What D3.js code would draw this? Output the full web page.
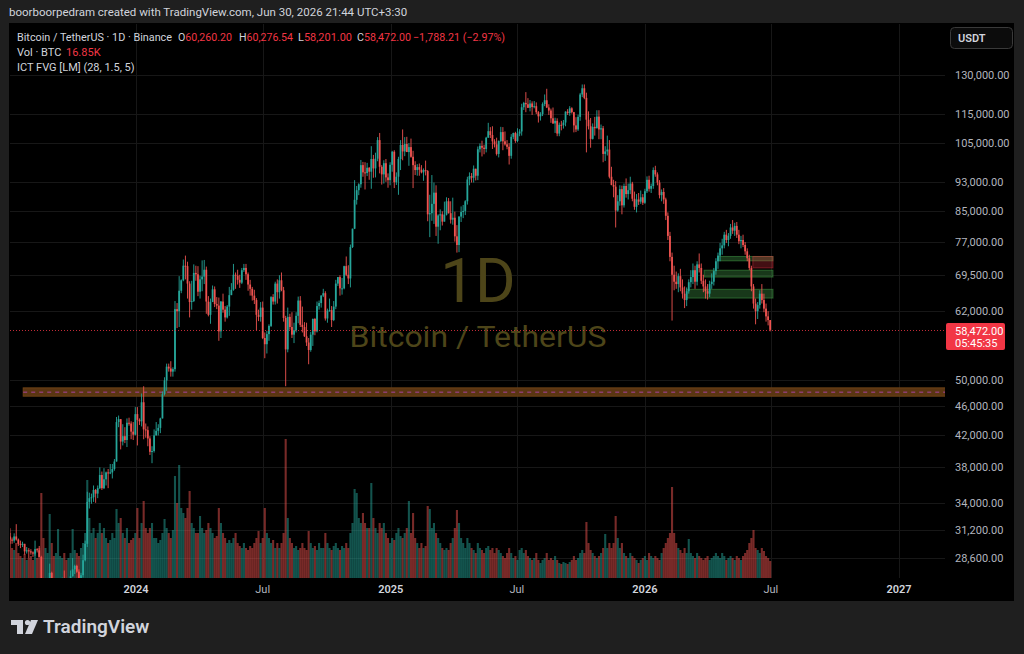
<!DOCTYPE html>
<html>
<head>
<meta charset="utf-8">
<script src="https://cdn.jsdelivr.net/npm/d3@7"></script>
<style>
  html, body { margin: 0; padding: 0; background: #1f1f1f; }
  svg { display: block; }
  text { font-family: Roboto, "Noto Sans", sans-serif; }
</style>
</head>
<body>
<svg id="chart" width="1024" height="654"></svg>
<script>
// BTC/USDT, Binance, 3-day buckets (K USDT)
const startDate = new Date(Date.UTC(2023, 6, 3));
const stepDays = 3;
const firstOpen = 30.6;

const highs = [
  31.4,30.5,30.9,31.8,30.4,30.2,30.1,29.9,29.6,29.5,
  29.4,29.2,30.2,29.5,29.7,28.8,26.3,26.8,26.2,28.1,
  27.4,26.1,26.4,26.3,26.8,26.9,27.5,26.7,26.8,27.5,
  28.6,28.0,28.0,27.6,27.3,28.9,30.2,35.2,35.1,35.0,
  35.9,35.5,35.9,38.0,37.5,37.9,37.5,37.8,38.4,38.4,
  39.0,44.5,44.7,44.2,43.5,43.1,44.3,44.4,43.9,43.8,
  45.9,45.9,44.3,47.9,49.0,43.6,43.2,41.9,40.6,42.8,
  43.8,43.5,44.4,48.2,50.4,52.6,52.6,53.0,52.0,64.0,
  63.6,69.2,68.5,72.9,73.8,72.4,68.1,68.2,71.8,71.5,
  71.4,69.3,72.7,72.8,71.3,65.0,64.5,67.2,67.0,64.8,
  64.7,64.0,65.5,63.0,63.2,66.9,67.7,71.9,70.0,70.6,
  69.5,71.0,71.9,71.9,70.0,68.4,66.9,66.3,64.6,62.3,
  63.8,63.9,58.0,58.3,59.5,65.0,65.4,68.0,68.5,69.4,
  70.0,66.9,61.1,62.7,61.5,61.8,59.8,61.8,64.9,65.0,
  62.9,59.9,59.8,57.0,58.1,60.6,60.7,63.9,64.1,65.2,
  66.5,66.0,62.5,64.5,63.0,64.0,68.4,69.0,69.4,68.8,
  71.5,73.6,71.6,76.4,80.3,93.5,91.8,92.6,99.6,99.0,
  98.9,98.7,97.4,104.0,101.2,101.9,107.0,108.4,98.0,99.5,
  99.9,95.5,98.9,102.5,102.7,95.8,100.6,106.0,109.6,107.0,
  107.1,105.0,106.5,102.5,99.2,98.3,98.5,98.0,97.0,99.4,
  96.5,89.3,95.0,92.8,92.0,84.0,85.3,84.8,87.4,88.6,
  88.4,87.5,88.5,84.7,81.2,83.5,86.1,86.5,87.8,94.5,
  95.8,95.6,97.9,96.9,103.9,104.9,105.8,104.5,107.1,111.9,
  110.4,110.7,106.3,106.8,105.9,110.5,110.4,108.9,106.0,105.0,
  108.0,108.5,108.8,110.0,109.7,118.8,119.5,123.2,120.9,120.2,
  119.7,119.8,119.3,116.1,115.7,119.3,122.3,124.5,118.6,117.0,
  117.4,113.7,113.5,112.0,112.6,112.9,116.0,116.8,117.9,117.5,
  115.8,113.9,114.8,122.9,126.2,126.2,123.0,116.0,113.6,111.7,
  114.0,116.4,116.4,111.3,110.8,104.0,107.5,106.0,97.5,93.6,
  93.2,89.2,92.0,91.9,92.5,94.0,92.5,94.5,93.0,90.2,
  89.5,89.8,90.5,89.5,91.0,94.6,94.8,92.5,97.3,97.8,
  95.8,93.5,90.8,91.2,88.5,84.5,79.5,74.5,71.5,70.2,
  69.8,70.8,68.5,67.0,66.8,68.5,70.5,72.0,71.5,72.5,
  74.3,72.0,69.5,68.5,67.5,68.2,69.8,71.0,73.2,74.5,
  76.8,77.8,79.5,80.0,79.2,81.5,82.5,81.8,82.0,80.0,
  78.5,78.8,77.0,75.5,74.0,71.5,67.5,64.5,63.8,66.2,
  67.5,65.5,63.5,62.0,60.3
];
const lows = [
  29.9,29.9,30.0,30.2,29.7,29.5,29.6,28.9,29.0,28.6,
  28.9,28.7,28.8,29.1,28.7,25.2,25.8,25.8,25.9,25.9,
  25.8,25.6,25.6,24.9,26.1,26.1,26.4,26.0,26.0,26.4,
  27.0,27.2,27.3,26.5,26.6,26.9,28.3,29.6,33.4,33.9,
  34.1,34.0,34.5,35.5,35.4,35.5,35.9,35.6,37.2,36.7,
  37.6,38.7,43.1,40.2,40.7,41.0,40.5,43.3,41.5,41.4,
  42.0,40.7,43.4,43.2,41.5,41.7,40.6,39.5,38.5,39.8,
  42.0,42.0,42.3,44.3,47.6,48.3,51.3,50.5,50.5,51.3,
  58.8,59.0,65.6,68.1,68.5,64.5,60.8,62.3,63.8,68.2,
  65.0,64.5,66.0,67.5,61.5,61.0,59.6,63.8,62.8,62.4,
  56.5,57.0,61.7,60.0,60.6,61.1,65.2,66.1,66.5,67.4,
  66.7,67.5,70.1,68.4,66.1,65.1,64.1,63.4,58.4,60.1,
  60.0,56.8,53.5,54.3,56.5,59.0,63.3,63.3,63.5,64.5,
  66.0,60.0,49.0,54.5,58.5,57.0,56.1,58.0,59.7,59.0,
  58.0,57.2,55.6,52.5,54.6,55.6,57.5,58.0,62.3,62.7,
  64.8,60.2,59.8,61.9,59.0,60.1,62.4,67.1,65.1,65.3,
  66.4,69.2,67.5,66.8,75.6,80.2,86.6,89.2,91.3,94.5,
  90.8,94.7,93.6,91.0,94.2,94.3,99.2,95.5,92.2,92.5,
  93.0,91.3,92.0,96.0,91.2,92.1,89.3,96.5,99.5,100.8,
  102.2,97.8,100.3,91.2,95.0,94.8,94.8,95.5,93.3,94.9,
  82.2,78.2,82.3,81.5,78.5,76.6,79.9,81.1,82.1,83.7,
  84.2,81.6,81.3,77.1,74.5,74.6,82.0,83.0,83.8,86.6,
  92.0,92.8,92.8,93.4,93.5,102.0,100.7,101.4,102.0,106.8,
  106.7,103.1,103.6,101.0,100.4,105.3,102.7,104.2,103.0,98.2,
  100.0,106.3,105.1,105.3,107.3,107.5,116.5,115.7,117.2,116.0,
  114.7,117.1,115.0,112.0,112.7,114.3,117.9,117.2,114.7,111.9,
  111.5,108.4,107.3,107.3,109.3,109.9,110.7,114.7,114.4,115.2,
  108.6,108.7,109.1,112.6,121.3,120.5,102.0,109.6,103.5,106.2,
  107.5,110.0,106.3,106.3,98.9,99.3,101.0,94.0,92.0,88.6,
  80.6,84.7,86.3,84.0,85.8,88.5,88.0,89.5,87.5,85.2,
  84.5,86.5,86.8,86.5,86.8,89.8,90.2,89.8,91.0,94.5,
  92.0,88.3,87.5,86.8,82.5,77.5,72.5,60.2,66.2,66.5,
  65.8,66.0,64.5,62.6,63.0,65.5,66.8,67.5,66.5,67.2,
  70.0,67.5,65.8,64.5,64.3,64.8,66.5,67.2,69.5,70.8,
  72.5,74.0,75.5,76.8,76.0,77.8,79.0,78.5,78.0,76.5,
  75.5,75.8,74.0,72.5,70.5,66.0,62.5,59.5,60.5,62.5,
  63.5,61.8,60.0,59.3,58.2
];
const closes = [
  30.3,30.2,30.6,30.3,29.9,29.8,29.9,29.2,29.3,29.2,
  29.1,29.0,29.4,29.3,28.7,26.1,26.0,26.0,26.1,27.3,
  25.9,25.8,25.9,26.2,26.6,26.8,26.6,26.3,26.4,27.0,
  27.6,27.9,27.4,26.8,27.1,28.4,29.9,34.1,34.5,34.6,
  35.4,35.0,35.6,37.1,35.6,36.6,37.4,37.3,37.4,37.8,
  38.7,43.8,44.2,41.2,41.9,41.4,43.7,43.6,42.5,42.1,
  44.9,44.1,43.9,46.6,42.8,42.7,41.6,39.9,40.0,42.0,
  42.6,43.0,44.3,47.8,49.9,52.1,51.8,51.3,51.7,62.4,
  62.0,66.1,68.3,71.5,71.4,67.6,63.8,64.0,69.9,69.6,
  65.9,68.5,69.1,70.6,63.9,61.3,63.8,66.4,63.4,63.1,
  58.2,63.9,62.3,60.8,62.9,65.2,66.3,69.5,69.3,68.4,
  67.8,70.5,71.0,69.6,67.4,66.5,65.1,64.2,61.3,60.9,
  62.7,57.0,55.9,57.7,59.2,64.8,63.9,67.6,65.8,68.3,
  66.2,60.7,55.0,60.9,59.0,57.6,58.4,61.1,64.1,59.4,
  59.0,57.3,56.2,54.9,57.6,60.5,58.2,63.0,63.6,65.1,
  65.6,60.6,62.1,62.2,60.3,62.9,67.6,69.0,66.6,66.6,
  71.4,69.5,68.7,75.8,80.3,87.9,90.6,92.3,98.0,95.8,
  95.6,97.2,96.0,99.9,97.0,100.0,106.0,97.5,95.2,98.6,
  94.3,93.5,98.1,102.2,92.9,94.5,99.9,104.4,102.3,104.7,
  102.1,103.7,100.6,98.0,96.5,97.4,96.6,95.8,96.5,96.2,
  84.0,84.3,86.8,89.9,80.8,83.7,84.0,82.1,83.9,87.5,
  84.3,82.6,83.1,78.4,76.3,83.4,84.6,84.9,87.5,93.7,
  94.7,94.2,96.9,94.8,103.0,104.1,103.5,103.1,106.8,109.0,
  107.7,105.6,104.6,101.5,105.7,108.7,105.6,104.6,103.8,100.9,
  107.1,108.4,105.7,108.2,108.9,117.5,119.1,118.6,117.3,118.9,
  117.6,117.9,115.7,114.2,115.0,118.7,120.1,117.4,116.3,113.5,
  111.7,112.6,108.2,111.2,111.1,112.0,115.9,115.4,117.1,115.7,
  111.0,109.6,114.0,122.3,124.7,121.0,113.0,110.7,106.4,110.5,
  110.0,114.1,109.6,110.0,101.5,102.3,102.9,94.5,92.1,91.6,
  85.0,87.5,90.9,86.4,91.8,89.5,90.6,92.5,88.2,86.0,
  88.0,87.4,88.6,87.1,90.3,93.6,91.0,91.8,96.5,95.2,
  92.8,89.2,90.1,88.0,83.6,78.5,73.5,69.5,68.0,67.5,
  69.2,66.8,65.5,64.2,66.0,67.9,69.0,70.5,68.0,71.8,
  71.0,68.2,67.0,66.0,65.5,67.5,68.0,70.3,72.5,73.8,
  75.5,76.2,78.8,77.5,78.5,80.6,79.8,81.0,78.8,77.2,
  77.5,76.3,74.8,73.2,71.0,67.0,63.5,62.0,63.2,65.5,
  64.2,62.5,61.0,60.3,58.472
];
// volume, K BTC (largest day in each bucket)
const volumes = [
  45,30,28,35,25,22,20,24,18,20,
  22,18,25,20,30,85,40,30,25,64,
  35,22,25,49,22,20,25,18,20,25,
  49,28,25,22,30,35,45,98,60,45,
  50,40,45,55,45,50,40,35,38,45,
  40,69,55,60,45,40,50,35,38,40,
  45,70,40,55,77,50,45,50,55,40,
  40,35,38,45,59,50,45,40,48,102,
  75,113,70,65,60,70,87,55,50,45,
  45,62,50,45,48,55,50,45,40,42,
  70,55,45,40,35,38,35,40,45,35,
  32,30,35,30,28,32,30,35,40,47,
  35,40,70,45,40,35,38,30,35,30,
  35,45,139,60,40,35,30,32,28,30,
  35,30,28,47,35,30,32,28,35,30,
  30,45,35,30,28,32,35,30,28,32,
  30,35,30,45,55,89,85,60,55,65,
  55,50,50,95,60,50,45,55,50,55,
  45,40,35,40,38,45,50,42,40,45,
  50,77,45,65,40,35,30,35,30,32,
  72,69,50,55,45,40,35,30,28,30,
  28,35,40,50,68,55,40,35,30,40,
  35,30,28,25,35,30,28,25,30,32,
  28,30,25,30,28,25,22,20,25,30,
  25,20,22,18,28,30,25,28,22,20,
  18,20,25,18,15,18,20,25,18,20,
  18,22,18,15,14,16,15,14,16,18,
  22,18,20,25,28,25,56,35,28,25,
  22,20,22,25,30,44,30,35,30,35,
  62,40,30,35,25,22,20,25,22,20,
  18,15,18,20,22,18,25,22,20,22,
  20,18,25,30,35,40,45,91,45,35,
  30,28,25,30,25,39,25,22,20,25,
  22,20,18,20,22,18,20,22,25,22,
  20,25,22,18,20,22,20,18,22,20,
  18,22,25,28,35,40,48,30,28,25,
  30,27,22,20,17
];

const priceTicks = [130000, 115000, 105000, 93000, 85000, 77000, 69500, 62000,
                    50000, 46000, 42000, 38000, 34000, 31200, 28600];
const timeTicks = [[2024,0],[2024,6],[2025,0],[2025,6],[2026,0],[2026,6],[2027,0]];
const timeLabels = ["2024", "Jul", "2025", "Jul", "2026", "Jul", "2027"];

// ICT FVG boxes (K USDT)
const fvgStart  = ["2026-04-16", "2026-03-27", "2026-03-02", "2026-06-05"];
const fvgEnd    = ["2026-07-04", "2026-07-04", "2026-07-04", "2026-07-04"];
const fvgTop    = [73.6, 70.5, 66.4, 73.6];
const fvgBottom = [72.6, 69.0, 64.6, 71.0];
const fvgKind   = ["bull", "bull", "bull", "bear"];

// drawn support zone (K USDT)
const zoneDates = ["2023-07-23", "2027-03-10"];
const zonePrices = [48.75, 48.1, 47.5];

const lastPrice = 58472;

const W = 1024, H = 654;
const plot = { left: 10, right: 945, top: 24, bottom: 578 };
const up = "#26a69a", down = "#ef5350";

const svg = d3.select("#chart");

const x = d3.scaleUtc()
    .domain([new Date(Date.UTC(2024, 0, 1)), new Date(Date.UTC(2027, 0, 1))])
    .range([136, 899]);
const y = d3.scaleLog().domain([28600, 130000]).range([558, 75]);
const yVol = d3.scaleLinear().domain([0, d3.max(volumes)]).range([plot.bottom, plot.bottom - 139]);
const dayPx = x(new Date(Date.UTC(2024, 0, 2))) - x(new Date(Date.UTC(2024, 0, 1)));

const candles = closes.map((c, i) => ({
    date: d3.utcDay.offset(startDate, stepDays * i + 1),
    open: (i === 0 ? firstOpen : closes[i - 1]) * 1000,
    high: highs[i] * 1000,
    low: lows[i] * 1000,
    close: c * 1000,
    vol: volumes[i]
}));

// panel background
svg.append("rect").attr("x", 9).attr("y", 23).attr("width", 1005).attr("height", 578).attr("fill", "#000");

svg.append("defs").append("clipPath").attr("id", "plotClip")
    .append("rect")
    .attr("x", plot.left).attr("y", plot.top)
    .attr("width", plot.right - plot.left).attr("height", plot.bottom - plot.top);

// grid
const grid = svg.append("g");
grid.selectAll(".hg").data(priceTicks).enter().append("line")
    .attr("x1", plot.left).attr("x2", plot.right)
    .attr("y1", d => Math.round(y(d)) + 0.5).attr("y2", d => Math.round(y(d)) + 0.5)
    .attr("stroke", "#171717");
grid.selectAll(".vg").data(timeTicks).enter().append("line")
    .attr("x1", d => Math.round(x(new Date(Date.UTC(d[0], d[1], 1)))) + 0.5)
    .attr("x2", d => Math.round(x(new Date(Date.UTC(d[0], d[1], 1)))) + 0.5)
    .attr("y1", plot.top).attr("y2", plot.bottom)
    .attr("stroke", "#171717");

const g = svg.append("g").attr("clip-path", "url(#plotClip)");

// watermark
g.append("text")
    .attr("x", 478).attr("y", 302)
    .attr("text-anchor", "middle")
    .attr("font-size", 62)
    .attr("fill", "#4d4519")
    .text("1D");
g.append("text")
    .attr("x", 478).attr("y", 347)
    .attr("text-anchor", "middle")
    .attr("font-size", 30)
    .attr("fill", "#4d4519")
    .attr("textLength", 257).attr("lengthAdjust", "spacingAndGlyphs")
    .text("Bitcoin / TetherUS");

// volume
const bw = stepDays * dayPx;
g.selectAll(".vol").data(candles).enter().append("rect")
    .attr("x", d => x(d.date) - bw / 2)
    .attr("width", bw)
    .attr("y", d => yVol(d.vol))
    .attr("height", d => plot.bottom - yVol(d.vol))
    .attr("fill", d => d.close >= d.open ? "rgba(38,166,154,0.5)" : "rgba(239,83,80,0.5)");

// support zone
const zx0 = x(new Date(zoneDates[0])), zx1 = x(new Date(zoneDates[1]));
g.append("rect")
    .attr("x", zx0).attr("width", zx1 - zx0)
    .attr("y", y(zonePrices[0] * 1000))
    .attr("height", y(zonePrices[2] * 1000) - y(zonePrices[0] * 1000))
    .attr("fill", "#5a3512").attr("stroke", "#6e4216");
g.append("line")
    .attr("x1", zx0).attr("x2", zx1)
    .attr("y1", y(zonePrices[1] * 1000)).attr("y2", y(zonePrices[1] * 1000))
    .attr("stroke", "#a6449f").attr("stroke-dasharray", "4,4");

// FVG boxes
const fvg = fvgStart.map((s, i) => ({
    x0: x(new Date(s)), x1: x(new Date(fvgEnd[i])),
    top: fvgTop[i] * 1000, bottom: fvgBottom[i] * 1000, kind: fvgKind[i]
}));
g.selectAll(".fvg").data(fvg).enter().append("rect")
    .attr("x", d => d.x0).attr("width", d => d.x1 - d.x0)
    .attr("y", d => y(d.top)).attr("height", d => y(d.bottom) - y(d.top))
    .attr("fill", d => d.kind === "bull" ? "rgba(76,175,80,0.32)" : "rgba(242,54,69,0.28)")
    .attr("stroke", d => d.kind === "bull" ? "rgba(76,175,80,0.45)" : "rgba(242,54,69,0.4)");

// candles
const cw = bw * 0.85;
const cg = g.selectAll(".candle").data(candles).enter().append("g");
cg.append("line")
    .attr("x1", d => x(d.date)).attr("x2", d => x(d.date))
    .attr("y1", d => y(d.high)).attr("y2", d => y(d.low))
    .attr("stroke", d => d.close >= d.open ? up : down)
    .attr("stroke-width", 0.9);
cg.append("rect")
    .attr("x", d => x(d.date) - cw / 2)
    .attr("width", cw)
    .attr("y", d => y(Math.max(d.open, d.close)))
    .attr("height", d => Math.max(1, y(Math.min(d.open, d.close)) - y(Math.max(d.open, d.close))))
    .attr("fill", d => d.close >= d.open ? up : down);

// last price line
g.append("line")
    .attr("x1", plot.left).attr("x2", plot.right)
    .attr("y1", Math.round(y(lastPrice)) + 0.5).attr("y2", Math.round(y(lastPrice)) + 0.5)
    .attr("stroke", "#f23645").attr("stroke-opacity", 0.8)
    .attr("stroke-dasharray", "1,2");

// price axis
const ax = svg.append("g").attr("font-size", 11).attr("fill", "#b2b5be");
ax.selectAll(".pt").data(priceTicks).enter().append("text")
    .attr("x", 955).attr("y", d => y(d) + 4)
    .text(d => d3.format(",.2f")(d));

svg.append("rect").attr("x", 946).attr("y", 323).attr("width", 59).attr("height", 27)
    .attr("rx", 2).attr("fill", "#f23645");
svg.append("text").attr("x", 955).attr("y", 335).attr("font-size", 11).attr("fill", "#fff")
    .text(d3.format(",.2f")(lastPrice));
svg.append("text").attr("x", 955).attr("y", 347).attr("font-size", 11).attr("fill", "#fff")
    .text("05:45:35");

// USDT button
svg.append("rect").attr("x", 950.5).attr("y", 27.5).attr("width", 62).attr("height", 21)
    .attr("rx", 4).attr("fill", "#0c0c0c").attr("stroke", "#3a3a3a");
svg.append("text").attr("x", 958).attr("y", 42).attr("font-size", 11).attr("font-weight", 600)
    .attr("fill", "#d1d4dc").text("USDT");

// time axis
svg.append("g").selectAll("text").data(timeTicks).enter().append("text")
    .attr("x", d => x(new Date(Date.UTC(d[0], d[1], 1))))
    .attr("y", 593)
    .attr("text-anchor", "middle")
    .attr("font-size", 11)
    .attr("font-weight", (d, i) => d[1] === 0 ? 600 : 400)
    .attr("fill", (d, i) => d[1] === 0 ? "#d1d4dc" : "#b2b5be")
    .text((d, i) => timeLabels[i]);

// header
svg.append("text").attr("x", 9).attr("y", 16).attr("font-size", 11.5).attr("fill", "#d1d4dc")
    .text("boorboorpedram created with TradingView.com, Jun 30, 2026 21:44 UTC+3:30");

const hdr = svg.append("g").attr("font-size", 11);
hdr.append("text").attr("x", 17).attr("y", 41).attr("fill", "#d1d4dc")
    .attr("textLength", 155).attr("lengthAdjust", "spacingAndGlyphs")
    .text("Bitcoin / TetherUS · 1D · Binance");
const ohlc = [["O", "60,260.20", 178], ["H", "60,276.54", 239], ["L", "58,201.00", 298], ["C", "58,472.00", 357]];
ohlc.forEach(([k, v, px]) => {
    const t = hdr.append("text").attr("x", px).attr("y", 41)
        .attr("textLength", 54).attr("lengthAdjust", "spacingAndGlyphs");
    t.append("tspan").attr("fill", "#d1d4dc").text(k);
    t.append("tspan").attr("fill", "#f23645").text(v);
});
hdr.append("text").attr("x", 413).attr("y", 41).attr("fill", "#f23645")
    .attr("textLength", 92).attr("lengthAdjust", "spacingAndGlyphs")
    .text("−1,788.21 (−2.97%)");
hdr.append("text").attr("x", 17).attr("y", 56).attr("fill", "#d1d4dc").text("Vol · BTC");
hdr.append("text").attr("x", 66).attr("y", 56).attr("fill", "#f23645").text("16.85K");
hdr.append("text").attr("x", 17).attr("y", 71).attr("fill", "#d1d4dc").text("ICT FVG [LM] (28, 1.5, 5)");

// TradingView logo
const logo = svg.append("g").attr("fill", "#d1d4dc");
logo.append("path").attr("d", "M11,620 H23 V634 H17 V625 H11 Z");
logo.append("circle").attr("cx", 27.5).attr("cy", 622.5).attr("r", 2.6);
logo.append("path").attr("d", "M31,620 H38 L32,634 H25 Z");
logo.append("text").attr("x", 43).attr("y", 633).attr("font-size", 19).attr("font-weight", 600)
    .text("TradingView");
</script>
</body>
</html>
